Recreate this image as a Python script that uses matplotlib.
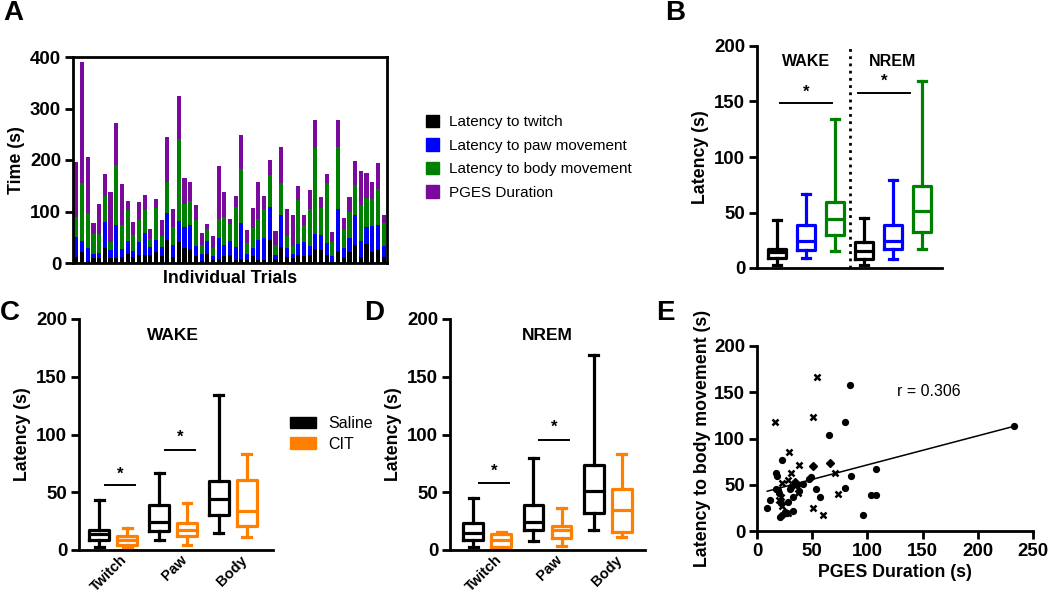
import matplotlib
matplotlib.use('Agg')
import matplotlib.pyplot as plt
import numpy as np
from matplotlib.patches import Patch

plt.rcParams['font.family'] = ['Liberation Sans', 'DejaVu Sans']
plt.rcParams['font.weight'] = 'bold'
plt.rcParams['axes.labelweight'] = 'bold'
plt.rcParams['font.size'] = 12

# ---------------- DATA ----------------
# Panel A: per-trial segment durations (s)
twitch = [12, 21, 3, 9, 9, 30, 9, 9, 11, 17, 12, 16, 16, 15, 21, 13, 45, 12, 41, 30, 28, 14, 3, 17, 5,
          8, 13, 15, 6, 8, 5, 13, 5, 5, 45, 8, 32, 12, 9, 15, 14, 16, 28, 25, 15, 2, 24, 12, 22, 35,
          12, 36, 21, 25, 11]
paw = [39, 21, 27, 8, 10, 50, 16, 64, 16, 25, 12, 24, 43, 16, 24, 18, 53, 23, 41, 39, 45, 19, 14, 25, 9,
       40, 22, 27, 26, 70, 12, 16, 40, 43, 63, 8, 61, 17, 8, 22, 26, 17, 28, 30, 24, 12, 80, 18, 27, 58,
       30, 33, 50, 48, 22]
body = [39, 114, 68, 40, 37, 50, 16, 117, 46, 60, 30, 44, 44, 15, 62, 22, 60, 35, 158, 45, 47, 50, 18, 24, 16,
        38, 54, 34, 77, 104, 22, 39, 40, 56, 63, 19, 63, 24, 16, 86, 33, 71, 168, 52, 117, 26, 122, 36, 51, 58,
        71, 57, 54, 70, 44]
pges = [106, 234, 107, 21, 58, 43, 96, 81, 80, 18, 26, 34, 29, 20, 18, 31, 86, 34, 85, 52, 37, 30, 24, 9, 23,
        103, 48, 10, 22, 66, 25, 38, 72, 27, 29, 28, 69, 51, 60, 27, 20, 38, 54, 21, 17, 20, 52, 21, 28, 48,
        66, 48, 33, 51, 17]
seg_labels = ['Latency to twitch', 'Latency to paw movement', 'Latency to body movement', 'PGES Duration']

# Panels B-D: five-number summaries [min, q1, median, q3, max] for Twitch, Paw, Body
categories = ['Twitch', 'Paw', 'Body']
wake_saline = [[3, 9, 14, 17, 43], [9, 16.5, 24, 39, 67], [15, 30, 44.5, 59.5, 134.5]]
nrem_saline = [[2.5, 8.5, 15, 23, 45], [8, 17, 24.5, 39, 79.5], [17, 32, 51, 74, 168.5]]
wake_cit = [[3, 4, 8.7, 12.5, 19], [4.5, 12, 17, 23, 41], [11, 21, 34, 60.5, 83]]
nrem_cit = [[1.5, 3, 9, 13.6, 15.3], [3.5, 10.4, 17, 21, 36], [11.6, 16, 35, 52.6, 83]]
group_labels = ['Saline', 'CIT']
B_sig = [(149, 158), (157.5, 168)]          # (line y, star y) WAKE, NREM
C_sig = [(56, 66), (87, 98)]                # Twitch, Paw
D_sig = [(58, 68), (95, 106)]

# Panel E: PGES duration vs latency to body movement
circ_x = [9.3, 11.4, 17.5, 18, 23, 17, 19, 20, 22, 21, 23, 25, 27, 28, 30, 30.5, 33, 33, 36, 38, 42,
          47.5, 48.5, 53.5, 57.5, 65, 80, 80, 84, 85.5, 95.8, 103, 107.8, 107.8, 233]
circ_y = [25, 34, 63, 60, 77, 45, 44, 41, 30, 15, 17, 21, 19, 31, 45, 48, 37, 22, 50, 43, 51,
          56, 58.5, 45, 37, 104, 118, 46, 158, 60, 17, 38.6, 38.6, 67.4, 113]
cross_x = [16, 54, 51, 28.6, 38, 30.5, 22.8, 28.3, 21.5, 22.5, 28.5, 37, 51, 59.5, 70.5, 73, 20]
cross_y = [118, 167, 123.5, 85, 71.5, 63, 52, 55, 37, 27, 19, 41, 24.5, 17, 63, 40, 33]
diam_x = [50.6, 66, 34.6]
diam_y = [70.5, 74, 53]
fit_intercept = 40.1
fit_slope = 0.314
r_text = 'r = 0.306'

# ---------------- FIGURE ----------------
W, H = 1050, 596
fig = plt.figure(figsize=(W / 100, H / 100), dpi=100)
TICK_FS = 13.4
LAB_FS = 12.8


def ax_px(x0, y0, x1, y1):
    return fig.add_axes([x0 / W, 1 - y1 / H, (x1 - x0) / W, (y1 - y0) / H])


def style(ax, spines=('left', 'bottom')):
    for s in ['left', 'right', 'top', 'bottom']:
        ax.spines[s].set_visible(s in spines)
        ax.spines[s].set_linewidth(2.0)
    ax.tick_params(width=2.0, length=6, labelsize=TICK_FS, pad=2.5)
    for lab in ax.get_yticklabels() + ax.get_xticklabels():
        lab.set_fontweight('bold')


def five(f):
    return dict(whislo=f[0], q1=f[1], med=f[2], q3=f[3], whishi=f[4], fliers=[])


def boxes(ax, fivenums, positions, colors, width, lw=2.3):
    for f, p, c in zip(fivenums, positions, colors):
        ax.bxp([five(f)], positions=[p], widths=width, capwidths=width * 0.45,
               showfliers=False, manage_ticks=False,
               boxprops=dict(color=c, lw=lw), whiskerprops=dict(color=c, lw=lw),
               capprops=dict(color=c, lw=lw), medianprops=dict(color=c, lw=lw))


def panel_letter(x, y, s):
    fig.text(x / W, 1 - y / H, s, fontsize=20, fontweight='bold', va='top', ha='left')


C_BLACK, C_BLUE, C_GREEN, C_PURPLE, C_ORANGE = 'black', '#0000ff', '#008000', '#7a0a9c', '#ff8000'

# ---- Panel A ----
axA = ax_px(73, 57, 387, 263)
idx = np.arange(len(twitch))
bottom = np.zeros(len(twitch))
for vals, col, lab in zip([twitch, paw, body, pges], [C_BLACK, C_BLUE, C_GREEN, C_PURPLE], seg_labels):
    axA.bar(idx, vals, bottom=bottom, width=0.72, color=col, label=lab, linewidth=0)
    bottom = bottom + np.array(vals)
axA.set_xlim(-0.6, len(twitch) - 0.4)
axA.set_ylim(0, 400)
axA.set_yticks([0, 100, 200, 300, 400])
axA.set_xticks([])
axA.set_ylabel('Time (s)', fontsize=LAB_FS, labelpad=4)
axA.set_xlabel('Individual Trials', fontsize=LAB_FS, labelpad=5)
style(axA, spines=('left', 'right', 'top', 'bottom'))
hA = [Patch(color=c) for c in [C_BLACK, C_BLUE, C_GREEN, C_PURPLE]]
fig.legend(hA, seg_labels, loc='upper left', bbox_to_anchor=(418 / W, 1 - 107 / H), frameon=False,
           prop=dict(family=['Liberation Sans'], weight='normal', size=11),
           handlelength=0.9, handleheight=0.9, labelspacing=0.58, handletextpad=0.6, borderpad=0)
panel_letter(3, 0, 'A')

# ---- Panel B ----
axB = ax_px(757, 46, 942, 268)
posB = [1, 2, 3, 4, 5, 6]
boxes(axB, wake_saline + nrem_saline, posB, [C_BLACK, C_BLUE, C_GREEN] * 2, 0.62)
axB.axvline(3.5, color='black', lw=2.0, ls=(0, (1, 1.6)))
axB.set_xlim(0.31, 6.69)
axB.set_ylim(0, 200)
axB.set_yticks([0, 50, 100, 150, 200])
axB.set_xticks([])
axB.set_ylabel('Latency (s)', fontsize=LAB_FS)
style(axB)
axB.text(2, 186, 'WAKE', ha='center', va='center', fontsize=11.5, fontweight='bold')
axB.text(5, 186, 'NREM', ha='center', va='center', fontsize=11.5, fontweight='bold')
for (ly, sy), (xa, xb) in zip(B_sig, [(1.1, 2.9), (3.8, 5.6)]):
    axB.plot([xa, xb], [ly, ly], color='black', lw=1.4)
    axB.text((xa + xb) / 2, sy, '*', ha='center', va='center', fontsize=12, fontweight='bold')
panel_letter(665, 0, 'B')


# ---- Panels C, D ----
def cd_panel(box_px, sal, cit, sig, title, xlim):
    ax = ax_px(*box_px)
    g = np.arange(1, len(categories) + 1)
    off = 0.233
    boxes(ax, sal, g - off, [C_BLACK] * 3, 0.33)
    boxes(ax, cit, g + off, [C_ORANGE] * 3, 0.33)
    for i, (ly, sy) in enumerate(sig):
        xa, xb = g[i] - off + 0.1, g[i] + off + 0.13
        ax.plot([xa, xb], [ly, ly], color='black', lw=1.4)
        ax.text((xa + xb) / 2, sy, '*', ha='center', va='center', fontsize=12, fontweight='bold')
    ax.set_xlim(*xlim)
    ax.set_ylim(0, 200)
    ax.set_yticks([0, 50, 100, 150, 200])
    ax.set_xticks(g + 0.12)
    ax.set_xticklabels(categories, rotation=45, ha='right', va='top', rotation_mode='anchor')
    ax.set_ylabel('Latency (s)', fontsize=LAB_FS)
    ax.text(2, 186, title, ha='center', va='center', fontsize=12.5, fontweight='bold')
    style(ax)
    ax.tick_params(axis='x', length=0, pad=2, labelsize=10.5)
    return ax


axC = cd_panel((79, 319, 273, 550), wake_saline, wake_cit, C_sig, 'WAKE', (0.43, 3.67))
axD = cd_panel((450, 319, 645, 550), nrem_saline, nrem_cit, D_sig, 'NREM', (0.38, 3.62))
hC = [Patch(color=C_BLACK), Patch(color=C_ORANGE)]
fig.legend(hC, group_labels, loc='upper left', bbox_to_anchor=(282 / W, 1 - 408 / H), frameon=False,
           prop=dict(family=['Liberation Sans'], weight='normal', size=11.5),
           handlelength=1.6, handleheight=0.7, labelspacing=0.35, handletextpad=0.8, borderpad=0)
panel_letter(0, 300, 'C')
panel_letter(364, 300, 'D')

# ---- Panel E ----
axE = ax_px(757, 346, 1033, 531)
axE.plot(circ_x, circ_y, 'o', color='black', ms=4.2, ls='none')
axE.plot(cross_x, cross_y, 'x', color='black', ms=5, mew=1.8, ls='none')
axE.plot(diam_x, diam_y, 'D', color='black', ms=4.2, ls='none')
all_x = np.array(circ_x + cross_x + diam_x)
fx = np.array([all_x.min(), all_x.max()])
axE.plot(fx, fit_intercept + fit_slope * fx, color='black', lw=1.1)
axE.text(156, 151, r_text, ha='center', va='center', fontsize=11.5, fontweight='normal')
axE.set_xlim(0, 250)
axE.set_ylim(0, 200)
axE.set_xticks([0, 50, 100, 150, 200, 250])
axE.set_yticks([0, 50, 100, 150, 200])
axE.set_xlabel('PGES Duration (s)', fontsize=LAB_FS, labelpad=3)
axE.set_ylabel('Latency to body movement (s)', fontsize=LAB_FS, labelpad=2)
style(axE)
panel_letter(656, 300, 'E')

fig.savefig('out.png', dpi=100)
